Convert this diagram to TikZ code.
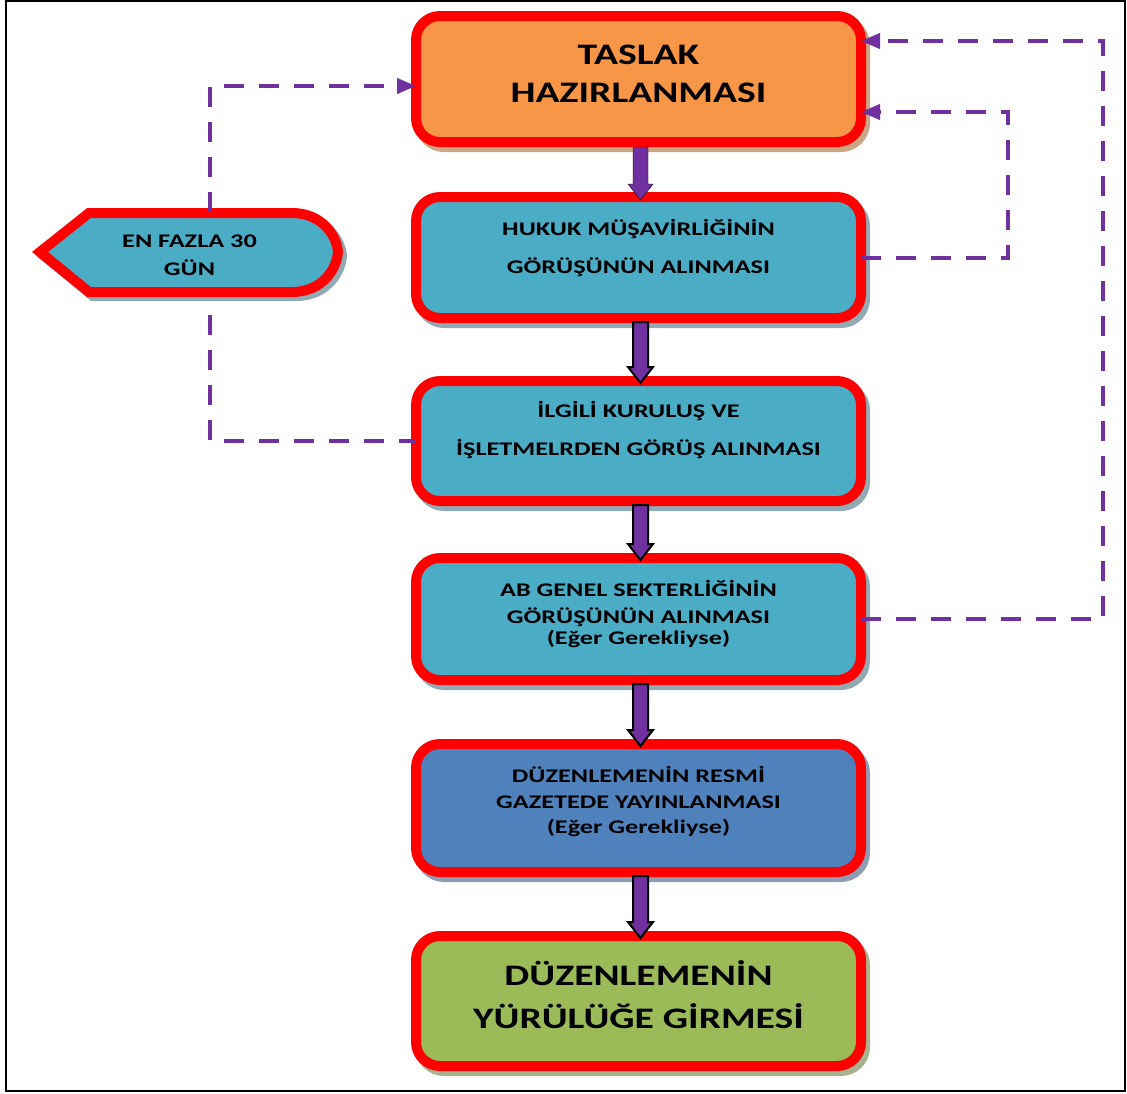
\documentclass[tikz,border=0pt]{standalone}
\usepackage{fontspec}
\setmainfont{Carlito}
\newfontfamily\cf{Carlito}[FakeStretch=1.33]
\newfontfamily\cfs{Carlito}[FakeStretch=1.36]
\usetikzlibrary{arrows.meta,shadows,calc}
\definecolor{bred}{HTML}{FF0000}
\definecolor{borange}{HTML}{F79646}
\definecolor{bcyan}{HTML}{4BACC6}
\definecolor{bblue}{HTML}{4F81BD}
\definecolor{bgreen}{HTML}{9BBB59}
\definecolor{bpurple}{HTML}{7030A0}
\definecolor{shorange}{HTML}{CBA584}
\definecolor{shcyan}{HTML}{92AAB4}
\definecolor{shblue}{HTML}{8E9DB3}
\definecolor{shgreen}{HTML}{A7B38F}
\tikzset{
  box/.style={draw=bred, line width=10pt, rounded corners=24pt, minimum width=445pt,
    outer sep=0pt, inner sep=0pt},
  shad/.style={drop shadow={shadow xshift=4pt, shadow yshift=-5pt, fill=#1, draw=#1,
    line width=10pt, opacity=1}},
  small/.style={font=\cfs\bfseries\fontsize{19.3}{19}\selectfont, anchor=base, inner sep=0pt},
  large/.style={font=\cf\bfseries\fontsize{29.8}{30}\selectfont, anchor=base, inner sep=0pt},
  dashline/.style={draw=bpurple, line width=4pt, dash pattern=on 20pt off 15pt},
  dashtip/.style={-{Triangle[length=19pt,width=15pt]}},
  solidarrow/.style={fill=bpurple},
  outlinearrow/.style={fill=bpurple, draw=black, line width=2pt, line join=miter},
}
\newcommand{\flowarrow}[3]{%
  \draw[#1] let \p1=(#2), \p2=(#3) in
   (\x1-7.5pt,\y1) -- (\x1-7.5pt,\y2+16pt) -- (\x1-12.5pt,\y2+16pt) -- (\x1,\y2)
   -- (\x1+12.5pt,\y2+16pt) -- (\x1+7.5pt,\y2+16pt) -- (\x1+7.5pt,\y1) -- cycle;}
\begin{document}
\begin{tikzpicture}[x=1pt,y=-1pt]
\useasboundingbox (0,0) rectangle (1127,1093);
\draw[line width=2pt] (6,1) rectangle (1124.5,1091);

% boxes
\node[box, shad=shorange, fill=borange, minimum height=126pt] (b1) at (638.5,79) {};
\node[box, shad=shcyan, fill=bcyan, minimum height=121pt] (b2) at (638.5,257.5) {};
\node[box, shad=shcyan, fill=bcyan, minimum height=120pt] (b3) at (638.5,441) {};
\node[box, shad=shcyan, fill=bcyan, minimum height=122pt] (b4) at (638.5,619) {};
\node[box, shad=shblue, fill=bblue, minimum height=128pt] (b5) at (638.5,808) {};
\node[box, shad=shgreen, fill=bgreen, minimum height=130pt] (b6) at (638.5,1001) {};

% display shape
\fill[shcyan] (44,256) -- (93,217) -- (296,217) .. controls (327,217) and (341,241) .. (342,256)
  .. controls (341,272) and (327,296) .. (296,296) -- (93,296) -- cycle;
\draw[shcyan, line width=10pt, line join=miter] (44,256) -- (93,217) -- (296,217) .. controls (327,217) and (341,241) .. (342,256)
  .. controls (341,272) and (327,296) .. (296,296) -- (93,296) -- cycle;
\draw[bred, fill=bcyan, line width=10pt, line join=miter] (40,252) -- (89,213) -- (292,213)
  .. controls (323,213) and (337,237) .. (338,252)
  .. controls (337,268) and (323,292) .. (292,292) -- (89,292) -- cycle;
\coordinate (hextop) at (210,212);
\coordinate (hexbot) at (210,315);

% texts
\node[large] (t1a) at (638.5,64) {TASLAK};
\node[large] (t1b) at (638.5,102) {HAZIRLANMASI};
\node[small] (t2a) at (638.5,235) {HUKUK MÜŞAVİRLİĞİNİN};
\node[small] (t2b) at (638.5,273) {GÖRÜŞÜNÜN ALINMASI};
\node[small] (t3a) at (638.5,417) {İLGİLİ KURULUŞ VE};
\node[small] (t3b) at (638.5,455) {İŞLETMELRDEN GÖRÜŞ ALINMASI};
\node[small] (t4a) at (638.5,596) {AB GENEL SEKTERLİĞİNİN};
\node[small] (t4b) at (638.5,623) {GÖRÜŞÜNÜN ALINMASI};
\node[small] (t4c) at (638.5,644) {(Eğer Gerekliyse)};
\node[small] (t5a) at (638.5,782) {DÜZENLEMENİN RESMİ};
\node[small] (t5b) at (638.5,808) {GAZETEDE YAYINLANMASI};
\node[small] (t5c) at (638.5,833) {(Eğer Gerekliyse)};
\node[large] (t6a) at (638.5,985) {DÜZENLEMENİN};
\node[large] (t6b) at (638.5,1028) {YÜRÜLÜĞE GİRMESİ};
\node[small] (th1) at (189.5,247) {EN FAZLA 30};
\node[small] (th2) at (189.5,275) {GÜN};

% solid flow arrows
\flowarrow{solidarrow}{[xshift=2pt,yshift=-5pt]b1.south}{[xshift=2pt,yshift=-3pt]b2.north}
\flowarrow{outlinearrow}{[xshift=2pt,yshift=-4pt]b2.south}{[xshift=2pt,yshift=-2pt]b3.north}
\flowarrow{outlinearrow}{[xshift=2pt,yshift=-4pt]b3.south}{[xshift=2pt,yshift=-2pt]b4.north}
\flowarrow{outlinearrow}{[xshift=2pt,yshift=-4pt]b4.south}{[xshift=2pt,yshift=-2pt]b5.north}
\flowarrow{outlinearrow}{[xshift=2pt,yshift=-4pt]b5.south}{[xshift=2pt,yshift=-2pt]b6.north}

% dashed connectors
\draw[dashline, dashtip] (hextop) |- ([yshift=-7pt]b1.west);
\draw[dashline] (hexbot) |- (b3.west);
\draw[dashline, dashtip] (b2.east) -- ++(147,0) |- ([yshift=-33pt]b1.east);
\draw[dashline, dashtip] (b4.east) -- ++(242,0) |- ([yshift=38pt]b1.east);
\end{tikzpicture}
\end{document}
